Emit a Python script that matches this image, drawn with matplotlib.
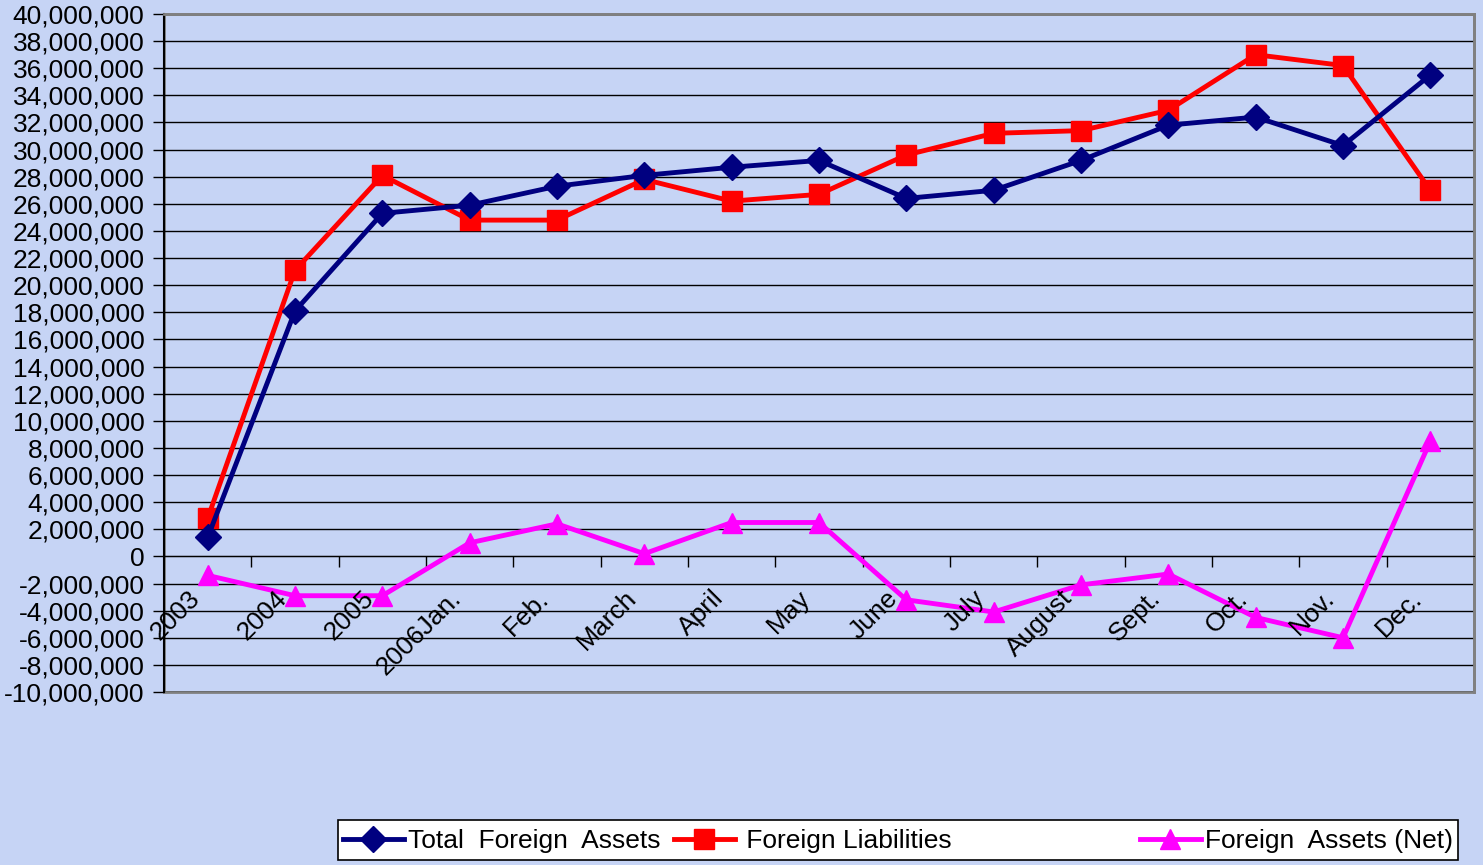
import matplotlib
matplotlib.use('Agg')
import matplotlib.pyplot as plt
from matplotlib.patches import Rectangle
from matplotlib.ticker import FuncFormatter, FixedLocator, NullFormatter
from matplotlib.transforms import ScaledTranslation
import numpy as np

############
### data ###
############

categories = ['2003', '2004', '2005', '2006Jan.', 'Feb.', 'March', 'April', 'May',
              'June', 'July', 'August', 'Sept.', 'Oct.', 'Nov.', 'Dec.']

total_assets = [1.4e6, 18.1e6, 25.3e6, 25.9e6, 27.3e6, 28.1e6, 28.7e6, 29.2e6,
                26.4e6, 27.0e6, 29.2e6, 31.8e6, 32.4e6, 30.3e6, 35.5e6]
liabilities = [2.8e6, 21.1e6, 28.1e6, 24.8e6, 24.8e6, 27.8e6, 26.2e6, 26.7e6,
               29.6e6, 31.2e6, 31.4e6, 32.9e6, 37.0e6, 36.2e6, 27.0e6]
net_assets = [-1.4e6, -2.9e6, -2.9e6, 1.0e6, 2.4e6, 0.2e6, 2.5e6, 2.5e6,
              -3.2e6, -4.1e6, -2.1e6, -1.3e6, -4.5e6, -6.0e6, 8.5e6]

series_labels = ['Total  Foreign  Assets', ' Foreign Liabilities', 'Foreign  Assets (Net)']

bg_color = '#C6D4F5'
font_size = 19

############
### plot ###
############

plt.rcParams['font.family'] = ['Liberation Sans', 'DejaVu Sans']

W, H = 1483, 865
fig = plt.figure(figsize=(W / 100, H / 100), dpi=100)
fig.patch.set_facecolor(bg_color)
ax = fig.add_axes([164 / W, 1 - 692 / H, (1474 - 164) / W, (692 - 14) / H])
ax.set_facecolor(bg_color)

x = np.arange(len(categories))

l1, = ax.plot(x, total_assets, color='#000080', lw=3.5, marker='D', ms=13, zorder=5)
l2, = ax.plot(x, liabilities, color='#FF0000', lw=3.5, marker='s', ms=15, zorder=4)
l3, = ax.plot(x, net_assets, color='#FF00FF', lw=3.5, marker='^', ms=15, zorder=3)

# axes ranges
ax.set_xlim(-0.5, len(categories) - 0.5)
ax.set_ylim(-10e6, 40e6)

# y axis
ax.set_yticks(np.arange(-10e6, 40e6 + 1, 2e6))
ax.yaxis.set_major_formatter(FuncFormatter(lambda v, p: '{:,.0f}'.format(v)))
ax.tick_params(axis='y', labelsize=font_size, length=8, width=1, direction='out', pad=6)
ax.grid(axis='y', color='black', lw=1, zorder=1)

# category axis crosses at zero
ax.spines['bottom'].set_position(('data', 0))
ax.spines['bottom'].set_color('black')
ax.spines['left'].set_color('black')
ax.spines['left'].set_linewidth(1.5)
ax.spines['top'].set_color('#808080')
ax.spines['top'].set_linewidth(2)
ax.spines['right'].set_color('#808080')
ax.spines['right'].set_linewidth(2)
ax.add_patch(Rectangle((0, 0), 1, 1, transform=ax.transAxes, fill=False,
                       edgecolor='#808080', lw=2, zorder=0.5, clip_on=False))

ax.xaxis.set_major_locator(FixedLocator(np.arange(0.5, len(categories) - 1, 1.0)))
ax.xaxis.set_major_formatter(NullFormatter())
ax.tick_params(axis='x', which='major', length=8, width=1, direction='out')

# category labels, rotated, hanging under the zero line
lbl_trans = ax.transData + ScaledTranslation(-7 / 100, -43 / 100, fig.dpi_scale_trans)
for i, cat in enumerate(categories):
    ax.text(i, 0, cat, transform=lbl_trans, rotation=45, rotation_mode='anchor',
            ha='right', va='baseline', fontsize=font_size, clip_on=False)

# legend box with three entries
fig.patches.append(Rectangle((338 / W, 1 - 860 / H), (1458 - 338) / W, 40 / H,
                             transform=fig.transFigure, facecolor='white',
                             edgecolor='black', lw=1.2, zorder=0))
entry_x = [343, 674, 1140]
for handle, label, ex in zip([l1, l2, l3], series_labels, entry_x):
    leg = fig.legend([handle], [label], loc='center left', bbox_to_anchor=(ex / W, 1 - 841 / H),
                     fontsize=font_size, frameon=False, handlelength=2.3,
                     handletextpad=0.15, borderpad=0, borderaxespad=0)

plt.savefig('out.png', dpi=100, facecolor=fig.get_facecolor())
